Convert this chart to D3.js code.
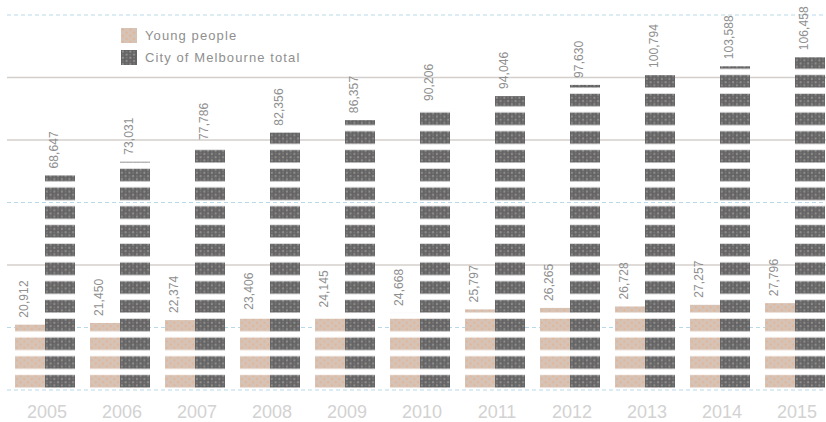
<!DOCTYPE html>
<html>
<head>
<meta charset="utf-8">
<script src="https://cdn.jsdelivr.net/npm/d3@7"></script>
<style>
  html, body { margin: 0; padding: 0; background: #fff; }
  svg { display: block; }
  text { font-family: "Liberation Sans", Arial, sans-serif; }
</style>
</head>
<body>
<svg id="chart" width="826" height="422"></svg>
<script>
// Population, City of Melbourne, 2005–2015
const years = ["2005", "2006", "2007", "2008", "2009", "2010", "2011", "2012", "2013", "2014", "2015"];
const youngPeople = [20912, 21450, 22374, 23406, 24145, 24668, 25797, 26265, 26728, 27257, 27796];
const cityTotal = [68647, 73031, 77786, 82356, 86357, 90206, 94046, 97630, 100794, 103588, 106458];
const seriesNames = ["Young people", "City of Melbourne total"];
const gridValues = [0, 20000, 40000, 60000, 80000, 100000, 120000];
const unitSize = 6000; // people per stacked tile

const svg = d3.select("#chart");
const width = 826, height = 422;

const y = d3.scaleLinear().domain([0, 120000]).range([390, 15]);
const x = d3.scaleBand().domain(years).range([7.5, 832.5]).paddingInner(0.2).paddingOuter(0.1);
const xs = d3.scaleBand().domain(seriesNames).range([0, x.bandwidth()]);

const defs = svg.append("defs");
const tileH = y(0) - y(unitSize);

// fine texture inside each tile
function texture(id, base, dot, dot2) {
  const p = defs.append("pattern").attr("id", id)
    .attr("patternUnits", "userSpaceOnUse").attr("width", 7.5).attr("height", 6.25);
  p.append("rect").attr("width", 7.5).attr("height", 6.25).attr("fill", base);
  p.append("circle").attr("cx", 1.9).attr("cy", 1.6).attr("r", 1.1).attr("fill", dot);
  p.append("circle").attr("cx", 5.6).attr("cy", 4.7).attr("r", 1.1).attr("fill", dot);
  p.append("circle").attr("cx", 5.6).attr("cy", 1.6).attr("r", 0.7).attr("fill", dot2);
  p.append("circle").attr("cx", 1.9).attr("cy", 4.7).attr("r", 0.7).attr("fill", dot2);
}
texture("texYoung", "#d7c3b5", "#e2b496", "#cfc6c4");
texture("texTotal", "#656262", "#959292", "#7f96a6");

// stacked tiles: one tile per unitSize, anchored at the baseline
function tiles(id, tex) {
  const p = defs.append("pattern").attr("id", id)
    .attr("patternUnits", "userSpaceOnUse")
    .attr("x", 0).attr("y", y(0))
    .attr("width", 1000).attr("height", tileH);
  p.append("rect").attr("x", 0).attr("y", tileH * 0.2)
    .attr("width", 1000).attr("height", tileH * 0.667)
    .attr("fill", `url(#${tex})`);
}
tiles("tileYoung", "texYoung");
tiles("tileTotal", "texTotal");

// grid lines
const gridStyle = {
  0: "dash", 20000: "dash", 40000: "solid", 60000: "dash",
  80000: "solid", 100000: "solid", 120000: "dash"
};
svg.append("g").selectAll("line").data(gridValues).join("line")
  .attr("x1", 7).attr("x2", width)
  .attr("y1", d => y(d)).attr("y2", d => y(d))
  .attr("stroke", d => gridStyle[d] === "dash" ? "#b7d9ea" : "#d3cfcc")
  .attr("stroke-width", d => gridStyle[d] === "dash" ? 1.2 : 1.4)
  .attr("stroke-dasharray", d => gridStyle[d] === "dash" ? "4,3" : null);

const rows = years.map((yr, i) => ({ year: yr, values: [youngPeople[i], cityTotal[i]] }));

const groups = svg.append("g").selectAll("g").data(rows).join("g")
  .attr("transform", d => `translate(${x(d.year)},0)`);

groups.selectAll("rect").data(d => d.values.map((v, j) => ({ key: seriesNames[j], v, j })))
  .join("rect")
  .attr("x", d => xs(d.key))
  .attr("width", xs.bandwidth())
  .attr("y", d => y(d.v))
  .attr("height", d => y(0) - y(d.v))
  .attr("fill", d => d.j === 0 ? "url(#tileYoung)" : "url(#tileTotal)");

// value labels, rotated above each bar
groups.selectAll("text.val").data(d => d.values.map((v, j) => ({ key: seriesNames[j], v })))
  .join("text").attr("class", "val")
  .attr("transform", d => `translate(${xs(d.key) + xs.bandwidth() / 2 - 2},${y(d.v) - 7}) rotate(-90)`)
  .attr("font-size", 12)
  .attr("fill", "#8f8f8f")
  .attr("letter-spacing", 0.1)
  .text(d => d3.format(",")(d.v));

// year axis labels
svg.append("g").selectAll("text").data(years).join("text")
  .attr("x", d => x(d) + x.bandwidth() / 2 + 2)
  .attr("y", 418)
  .attr("text-anchor", "middle")
  .attr("font-size", 18)
  .attr("fill", "#d2d2d2")
  .text(d => d);

// legend
const legend = svg.append("g").attr("transform", "translate(121,28)");
const legendFill = ["url(#texYoung)", "url(#texTotal)"];
seriesNames.forEach((name, i) => {
  const g = legend.append("g").attr("transform", `translate(0,${i * 22})`);
  g.append("rect").attr("width", 16).attr("height", 15).attr("fill", legendFill[i]);
  g.append("text").attr("x", 24).attr("y", 12)
    .attr("font-size", 13).attr("fill", "#8f8f8f").attr("letter-spacing", 1.1)
    .text(name);
});
</script>
</body>
</html>
